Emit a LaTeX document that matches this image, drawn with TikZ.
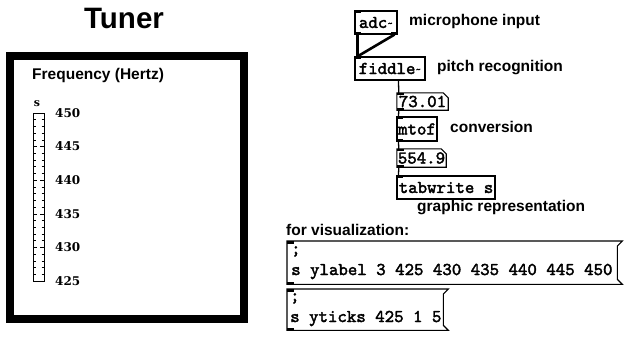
\documentclass[tikz,border=0pt]{standalone}
\usepackage{fontspec}
\setmainfont{Liberation Sans}
\newfontfamily\pdserif{DejaVu Serif}
\newfontfamily\pdmono{lmmono10-regular}[Extension=.otf, FakeBold=2.2]
\usetikzlibrary{calc}
\newcommand\msgline[2]{\makebox[#1][l]{\hspace*{2pt}#2}}
\begin{document}
\begin{tikzpicture}[x=1pt,y=-1pt,
  lbl/.style={font=\bfseries\fontsize{15.5}{17}\selectfont, anchor=west, inner sep=0},
  pdbox/.style={draw, line width=1.1, inner sep=0, font=\pdmono\fontsize{18}{19}\selectfont},
  pdnum/.style={inner sep=0, font=\pdmono\fontsize{18}{19}\selectfont},
  pdmsg/.style={anchor=north west, inner xsep=0, inner ysep=1, align=left, font=\pdmono\fontsize{18}{21}\selectfont},
  boxline/.style={line width=1.1},
  sigwire/.style={line width=2.6},
  ctlwire/.style={line width=1.3},
  scalelab/.style={anchor=west, inner sep=0, font=\pdserif\bfseries\fontsize{12}{14}\selectfont},
  port/.style={fill=black, draw=none}]
\useasboundingbox (0,0) rectangle (625,341);
\fill[white] (0,0) rectangle (625,341);

% ---- left: tuner ----
\node[font=\bfseries\fontsize{29.5}{32}\selectfont, inner sep=0] (title) at (124,18) {Tuner};
\node[draw, line width=8, minimum width=234, minimum height=263, inner sep=0] (frame) at (127,187.5) {};
\node[font=\bfseries\fontsize{15.5}{17}\selectfont, anchor=west, inner sep=0] (freq) at (32,75) {Frequency (Hertz)};
\node[font=\pdserif\bfseries\fontsize{11}{12}\selectfont, inner sep=0] (sname) at (37,104) {s};
\node[draw, line width=1, minimum width=11, minimum height=168, inner sep=0] (bar) at (38.5,197) {};
\foreach \i in {0,...,25}{
  \pgfmathsetmacro{\yy}{113+\i*168/25}
  \pgfmathtruncatemacro{\mm}{mod(\i,5)}
  \ifnum\mm=0
    \draw[line width=0.6] (33,\yy) -- (37,\yy) (40,\yy) -- (44,\yy);
  \else
    \draw[line width=0.6] (33,\yy) -- (35.5,\yy) (41.5,\yy) -- (44,\yy);
  \fi
}
\foreach \v/\y in {450/113,445/146.6,440/180.2,435/213.8,430/247.4,425/281}{
  \node[scalelab] (lab\v) at (55,\y) {\v};
}

% ---- right: patch ----
\node[pdbox, minimum width=42, minimum height=23] (adc) at (376,22.5) {adc\raisebox{0.15ex}{\fontsize{11}{11}\selectfont\textasciitilde}};
\node[lbl] (tadc) at (409,21) {microphone input};
\node[pdbox, minimum width=70, minimum height=23] (fiddle) at (390,68.5) {fiddle\raisebox{0.15ex}{\fontsize{11}{11}\selectfont\textasciitilde}};
\node[lbl] (tfid) at (437,68) {pitch recognition};
\node[pdnum, minimum width=51, minimum height=17] (numa) at (422.5,101.5) {73.01};
\node[pdbox, minimum width=40, minimum height=24] (mtof) at (417,129) {mtof};
\node[lbl] (tmtof) at (450,127) {conversion};
\node[pdnum, minimum width=49, minimum height=18] (numb) at (421.5,158) {554.9};
\node[pdbox, minimum width=98, minimum height=23] (tabw) at (446,187.5) {tabwrite s};
\node[lbl] (ttab) at (417,208) {graphic representation};
\node[lbl] (tvis) at (286,230) {for visualization:};

% number box outlines
\foreach \n in {numa,numb}{
  \draw[boxline] (\n.south west) -- (\n.north west) -- ($(\n.north east)+(-5,0)$) -- ($(\n.north east)+(0,5)$) -- (\n.south east) -- cycle;
}

% message boxes
\node[pdmsg, minimum width=330, minimum height=43] (msga) at (287,241) {\msgline{326pt}{;}\\\msgline{326pt}{s ylabel 3 425 430 435 440 445 450}};
\node[pdmsg, minimum width=156, minimum height=41] (msgb) at (287,289) {\msgline{154pt}{;}\\\msgline{154pt}{s yticks 425 1 5}};
\foreach \n in {msga,msgb}{
  \draw[boxline] (\n.north west) -- ($(\n.north east)+(5,0)$) -- ($(\n.north east)+(0,5)$) -- ($(\n.south east)+(0,-5)$) -- ($(\n.south east)+(5,0)$) -- (\n.south west) -- cycle;
  \fill[port] (\n.north west) rectangle ++(7,2.5);
  \fill[port] (\n.south west) rectangle ++(7,-2.5);
}

% wires
\draw[sigwire] ($(adc.south west)+(3,0)$) -- ($(fiddle.north west)+(3,0)$);
\draw[sigwire] ($(adc.south east)+(-3,0)$) -- ($(fiddle.north west)+(3,0)$);
\draw[ctlwire] ($(fiddle.south west)+(44,0)$) -- ($(numa.north west)+(2,0)$);
\draw[ctlwire] ($(numa.south west)+(2,0)$) -- ($(mtof.north west)+(2,0)$);
\draw[ctlwire] ($(mtof.south west)+(2,0)$) -- ($(numb.north west)+(2,0)$);
\draw[ctlwire] ($(numb.south west)+(2,0)$) -- ($(tabw.north west)+(2,0)$);

% ports
\fill[port] (adc.north west) rectangle ++(7,2.5);
\fill[port] (adc.south west) rectangle ++(7,-2.5);
\fill[port] (adc.south east) rectangle ++(-7,-2.5);
\fill[port] (fiddle.north west) rectangle ++(7,2.5);
\fill[port] (mtof.north west) rectangle ++(7,2.5);
\fill[port] (mtof.south west) rectangle ++(7,-2.5);
\fill[port] (tabw.north west) rectangle ++(7,2.5);
\fill[port] (numa.north west) rectangle ++(7,2.5);
\fill[port] (numa.south west) rectangle ++(7,-2.5);
\fill[port] (numb.north west) rectangle ++(7,2.5);
\fill[port] (numb.south west) rectangle ++(7,-2.5);
\end{tikzpicture}
\end{document}
